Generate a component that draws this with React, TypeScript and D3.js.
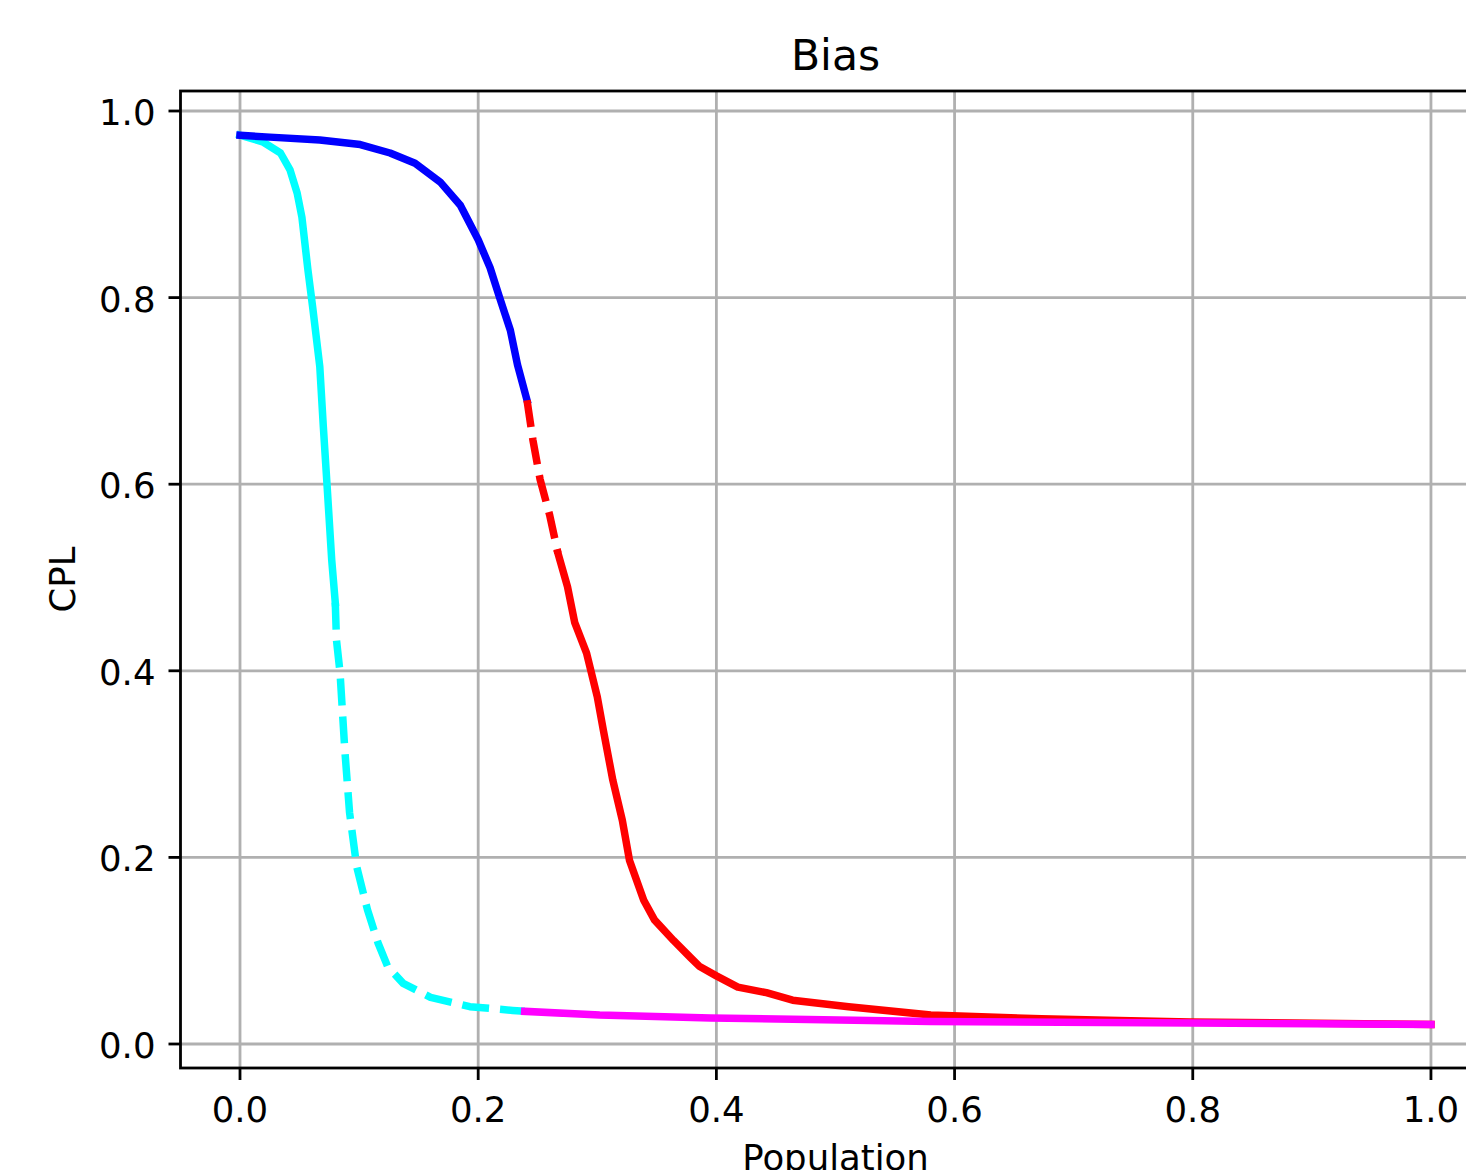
import React from "react";
import * as d3 from "d3";

// ---- data ----
const blueX = [0.0, 0.025, 0.067, 0.101, 0.126, 0.147, 0.168, 0.185, 0.2, 0.21, 0.218, 0.227, 0.233, 0.241];
const blueY = [0.974, 0.972, 0.969, 0.964, 0.955, 0.944, 0.924, 0.899, 0.862, 0.832, 0.8, 0.765, 0.728, 0.69];

const redDashX = [0.241, 0.246, 0.252, 0.26, 0.267];
const redDashY = [0.69, 0.647, 0.605, 0.567, 0.526];

const redSolidX = [0.267, 0.275, 0.281, 0.291, 0.3, 0.305, 0.313, 0.321, 0.327, 0.339, 0.348, 0.364, 0.378, 0.386, 0.4, 0.418, 0.442, 0.464, 0.511, 0.58, 0.673, 0.798, 1.0];
const redSolidY = [0.526, 0.49, 0.452, 0.419, 0.372, 0.337, 0.283, 0.24, 0.197, 0.154, 0.133, 0.111, 0.093, 0.083, 0.073, 0.061, 0.055, 0.047, 0.04, 0.031, 0.027, 0.0235, 0.021];

const cyanSolidX = [0.0, 0.019, 0.034, 0.042, 0.048, 0.052, 0.057, 0.061, 0.067, 0.07, 0.073, 0.077, 0.08];
const cyanSolidY = [0.974, 0.967, 0.955, 0.937, 0.912, 0.886, 0.83, 0.79, 0.726, 0.661, 0.601, 0.519, 0.473];

const cyanDashX = [0.08, 0.081, 0.084, 0.088, 0.092, 0.098, 0.107, 0.116, 0.124, 0.137, 0.16, 0.193, 0.229, 0.239];
const cyanDashY = [0.473, 0.433, 0.398, 0.315, 0.248, 0.19, 0.144, 0.108, 0.083, 0.065, 0.05, 0.04, 0.036, 0.035];

const magentaX = [0.239, 0.302, 0.395, 0.58, 0.8, 1.0];
const magentaY = [0.035, 0.031, 0.028, 0.024, 0.0225, 0.021];

const xTicks = [0.0, 0.2, 0.4, 0.6, 0.8, 1.0];
const yTicks = [0.0, 0.2, 0.4, 0.6, 0.8, 1.0];

const titleText = "Bias";
const xLabelText = "Population";
const yLabelText = "CPL";

// ---- layout ----
const W = 1466;
const H = 1170;
const left = 180.5;
const right = 1490.5;
const top = 91;
const bottom = 1068;
const FONT = "'DejaVu Sans', sans-serif";
const LW = 7.5;
const DASH = "27,11";

const xScale = d3.scaleLinear().domain([-0.04996, 1.05]).range([left, right]);
const yScale = d3.scaleLinear().domain([-0.02572, 1.02144]).range([bottom, top]);

const zip = (xs: number[], ys: number[]) => xs.map((x, i) => [x, ys[i]] as [number, number]);
const lineGen = d3
  .line<[number, number]>()
  .x((d) => xScale(d[0]))
  .y((d) => yScale(d[1]));

const series = [
  { pts: zip(cyanSolidX, cyanSolidY), color: "#00ffff", dash: null },
  { pts: zip(cyanDashX, cyanDashY), color: "#00ffff", dash: DASH },
  { pts: zip(blueX, blueY), color: "#0000ff", dash: null },
  { pts: zip(redDashX, redDashY), color: "#ff0000", dash: DASH },
  { pts: zip(redSolidX, redSolidY), color: "#ff0000", dash: null },
  { pts: zip(magentaX, magentaY), color: "#ff00ff", dash: null },
];

export default function App() {
  return (
    <svg
      width={W}
      height={H}
      style={{ position: "absolute", left: 0, top: 0, background: "#fff" }}
      fontFamily={FONT}
    >
      <defs>
        <clipPath id="plotclip">
          <rect x={left} y={top} width={right - left} height={bottom - top} />
        </clipPath>
      </defs>
      <rect x={0} y={0} width={W} height={H} fill="#fff" />
      {/* grid */}
      <g stroke="#b0b0b0" strokeWidth={2.8}>
        {xTicks.map((t) => (
          <line key={"gx" + t} x1={xScale(t)} x2={xScale(t)} y1={top} y2={bottom} />
        ))}
        {yTicks.map((t) => (
          <line key={"gy" + t} x1={left} x2={right} y1={yScale(t)} y2={yScale(t)} />
        ))}
      </g>
      {/* lines */}
      <g clipPath="url(#plotclip)" fill="none">
        {series.map((s, i) => (
          <path
            key={i}
            d={lineGen(s.pts) || ""}
            stroke={s.color}
            strokeWidth={LW}
            strokeDasharray={s.dash || undefined}
            strokeLinecap={s.dash ? "butt" : "square"}
            strokeLinejoin="round"
          />
        ))}
      </g>
      {/* spines */}
      <rect x={left} y={top} width={right - left} height={bottom - top} fill="none" stroke="#000" strokeWidth={2.8} />
      {/* x ticks */}
      <g>
        {xTicks.map((t) => (
          <g key={"xt" + t}>
            <line x1={xScale(t)} x2={xScale(t)} y1={bottom} y2={bottom + 12} stroke="#000" strokeWidth={2.8} />
            <text x={xScale(t)} y={1122} textAnchor="middle" fontSize={35.5} fill="#000">
              {t.toFixed(1)}
            </text>
          </g>
        ))}
      </g>
      {/* y ticks */}
      <g>
        {yTicks.map((t) => (
          <g key={"yt" + t}>
            <line x1={left - 12} x2={left} y1={yScale(t)} y2={yScale(t)} stroke="#000" strokeWidth={2.8} />
            <text x={left - 25} y={yScale(t) + 14} textAnchor="end" fontSize={35.5} fill="#000">
              {t.toFixed(1)}
            </text>
          </g>
        ))}
      </g>
      {/* title */}
      <text x={(left + right) / 2} y={70} textAnchor="middle" fontSize={42.5} fill="#000">
        {titleText}
      </text>
      {/* axis labels */}
      <text x={(left + right) / 2} y={1170} textAnchor="middle" fontSize={35.5} fill="#000">
        {xLabelText}
      </text>
      <text
        transform={`translate(75, ${(top + bottom) / 2}) rotate(-90)`}
        textAnchor="middle"
        fontSize={35.5}
        fill="#000"
      >
        {yLabelText}
      </text>
    </svg>
  );
}
